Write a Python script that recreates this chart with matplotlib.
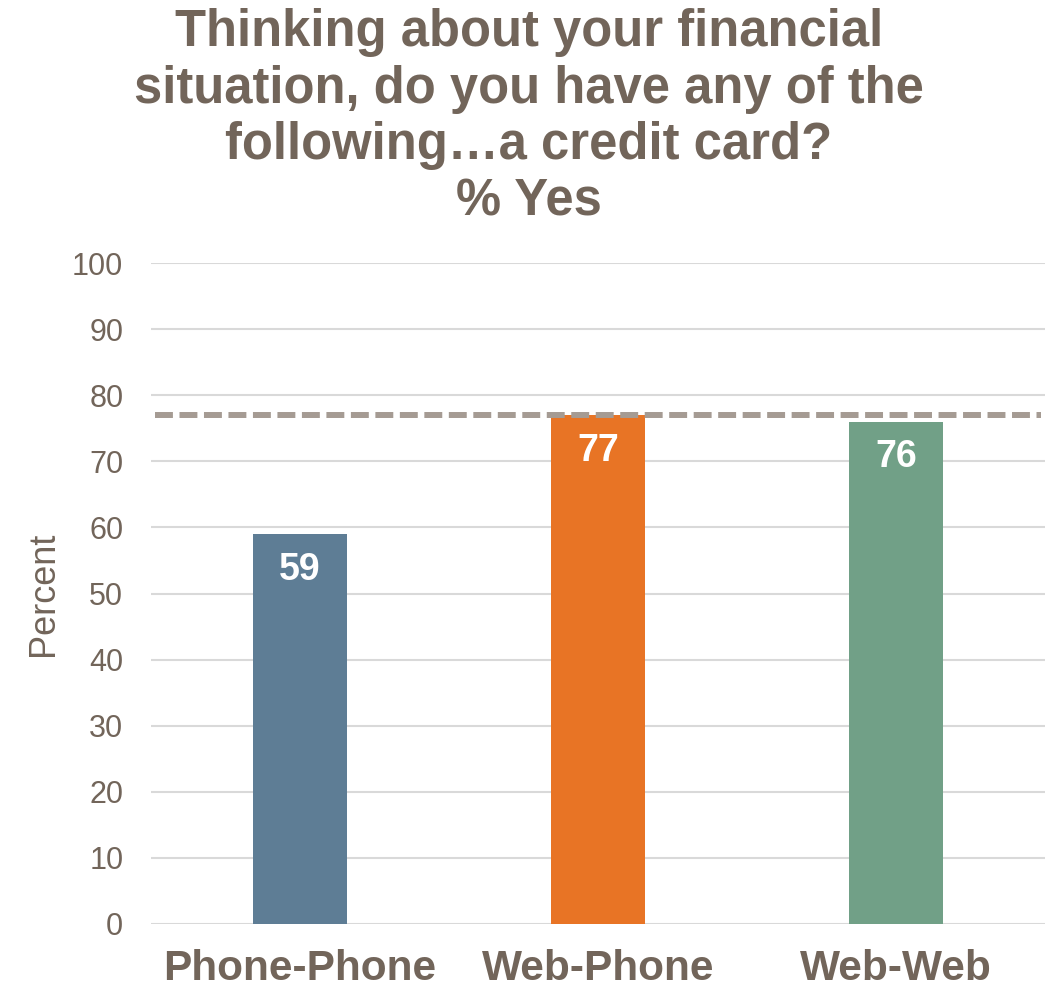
import matplotlib
matplotlib.use("Agg")
import matplotlib.pyplot as plt

# data
modes = ["Phone-Phone", "Web-Phone", "Web-Web"]
pct_yes = [59, 77, 76]
overall = 77
yticks = [0, 10, 20, 30, 40, 50, 60, 70, 80, 90, 100]

bar_colors = ["#5e7d95", "#e87425", "#71a087"]
text_color = "#72655a"

plt.rcParams["font.family"] = ["Liberation Sans", "DejaVu Sans"]

fig = plt.figure(figsize=(10.51, 9.93), dpi=100)
ax = fig.add_axes([0.1437, 0.0695, 0.8506, 0.6656])

x = list(range(len(modes)))
bars = ax.bar(x, pct_yes, width=0.315, color=bar_colors, zorder=2)

# benchmark line
ax.axhline(overall, xmin=0.005, xmax=0.995, color="#a59b93", lw=4.3,
           dashes=(3.0, 1.1), zorder=3)

for b, v in zip(bars, pct_yes):
    ax.text(b.get_x() + b.get_width() / 2, v - 5.4, str(v), ha="center",
            va="center", color="white", fontsize=27, fontweight="bold", zorder=4)

ax.set_xlim(-0.5, 2.5)
ax.set_ylim(0, 100)
ax.set_yticks(yticks)
ax.set_xticks(x)
ax.set_xticklabels(modes, fontsize=30.5, fontweight="bold", color=text_color)
ax.tick_params(axis="y", labelsize=22, labelcolor=text_color, length=0, pad=20)
ax.tick_params(axis="x", length=0, pad=18)
ax.grid(axis="y", color="#d9d9d9", lw=1.5, zorder=0)
for s in ax.spines.values():
    s.set_visible(False)

ax.set_ylabel("Percent", fontsize=26, color=text_color, labelpad=8)

fig.text(0.503, 0.992,
         "Thinking about your financial\nsituation, do you have any of the\nfollowing…a credit card?\n% Yes",
         ha="center", va="top", fontsize=36.5, fontweight="bold",
         color=text_color, linespacing=1.2)

fig.savefig("out.png", dpi=100)
